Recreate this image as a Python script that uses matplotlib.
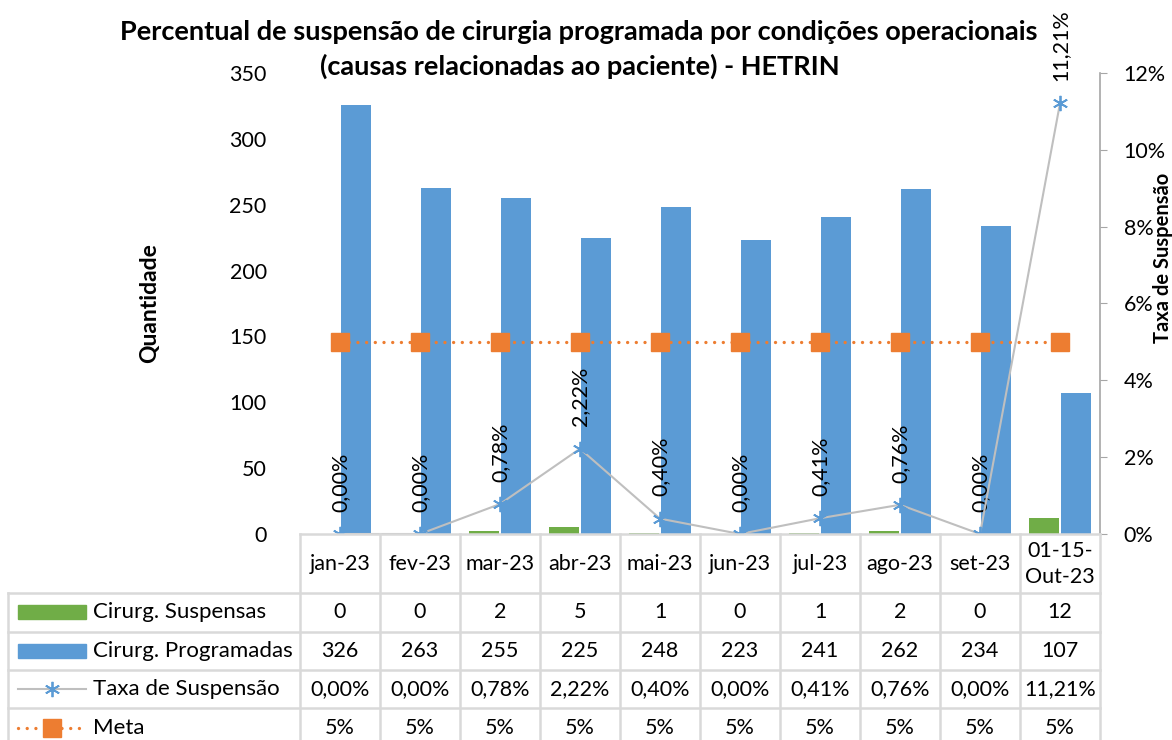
import numpy as np
import matplotlib
matplotlib.use('Agg')
import matplotlib.pyplot as plt
from matplotlib.ticker import FuncFormatter
from matplotlib.patches import Rectangle

plt.rcParams['font.family'] = ['Lato', 'DejaVu Sans']

meses = ['jan-23', 'fev-23', 'mar-23', 'abr-23', 'mai-23', 'jun-23',
         'jul-23', 'ago-23', 'set-23', '01-15-\nOut-23']
suspensas = [0, 0, 2, 5, 1, 0, 1, 2, 0, 12]
programadas = [326, 263, 255, 225, 248, 223, 241, 262, 234, 107]
taxa = [0.0, 0.0, 0.0078, 0.0222, 0.0040, 0.0, 0.0041, 0.0076, 0.0, 0.1121]
meta = [0.05] * 10

verde = '#70ad47'
azul = '#5b9bd5'
laranja = '#ed7d31'
cinza = '#bfbfbf'
grade = '#d9d9d9'
fs = 15.5
pontilhado = (0, (0.01, 2.6))

W, H = 1172, 740
fig = plt.figure(figsize=(W / 100, H / 100), dpi=100)


def pct(v):
    return f'{v * 100:.2f}%'.replace('.', ',')


x = np.arange(len(meses))

# eixo principal: quantidades
ax = fig.add_axes([300 / W, 1 - 534 / H, 800 / W, 461 / H])
ax.bar(x - 0.2, suspensas, 0.375, color=verde)
ax.bar(x + 0.2, programadas, 0.375, color=azul)
ax.set_xlim(-0.5, 9.5)
ax.set_ylim(0, 350)
ax.set_yticks(range(0, 351, 50))
ax.set_xticks([])
ax.tick_params(axis='y', length=0, pad=24, labelsize=fs)
for s in ax.spines.values():
    s.set_visible(False)
ax.set_ylabel('Quantidade', fontsize=16.5, fontweight='bold', labelpad=50)

# eixo secundario: taxa de suspensao e meta
ax2 = ax.twinx()
ax2.set_ylim(0, 0.12)
ax2.set_yticks(np.arange(0, 0.121, 0.02))
ax2.yaxis.set_major_formatter(FuncFormatter(lambda v, p: f'{round(v * 100)}%'))
ax2.tick_params(axis='y', direction='out', length=5, color='#a6a6a6', pad=12, labelsize=fs)
for k in ['top', 'left', 'bottom']:
    ax2.spines[k].set_visible(False)
ax2.spines['right'].set_color('#a6a6a6')
ax2.spines['right'].set_linewidth(1.2)

ax2.plot(x, meta, color=laranja, lw=2.4, ls=pontilhado, dash_capstyle='round',
         marker='s', ms=13, mfc=laranja, mec=laranja, zorder=3)
ax2.plot(x, taxa, color=cinza, lw=1.5, marker=(6, 2, 0), ms=11,
         mec=azul, mew=1.3, zorder=4)
for i, v in enumerate(taxa):
    ax2.annotate(pct(v), (i, v), xytext=(0, 16), textcoords='offset points',
                 rotation=90, ha='center', va='bottom', fontsize=fs)

fig.text(1163 / W, 1 - 258 / H, 'Taxa de Suspensão', rotation=90, ha='center',
         va='center', fontsize=14.5, fontweight='bold')

fig.text(579 / W, 1 - 32 / H,
         'Percentual de suspensão de cirurgia programada por condições operacionais',
         ha='center', va='center', fontsize=19.5, fontweight='bold')
fig.text(580 / W, 1 - 66 / H, '(causas relacionadas ao paciente) - HETRIN',
         ha='center', va='center', fontsize=19.5, fontweight='bold')

# tabela de dados abaixo do grafico
tb = fig.add_axes([8 / W, 0, 1092 / W, 206 / H])
tb.set_xlim(-4.15, 9.5)
tb.set_ylim(740, 534)
tb.axis('off')
linhas = [593, 632, 670, 708, 746]
tb.plot([-0.5, 9.5], [534, 534], color=grade, lw=1.8, clip_on=False)
for y in linhas:
    tb.plot([-4.15, 9.5], [y, y], color=grade, lw=1.8, clip_on=False)
for k in range(11):
    tb.plot([k - 0.5, k - 0.5], [534, 746], color=grade, lw=1.8, clip_on=False)
tb.plot([-4.15, -4.15], [593, 746], color=grade, lw=1.8, clip_on=False)

for i, m in enumerate(meses):
    tb.text(i, 564, m, ha='center', va='center', fontsize=fs, linespacing=1.4)

centros = [612, 651, 689, 728]
valores = [[str(v) for v in suspensas], [str(v) for v in programadas],
           [pct(v) for v in taxa], [f'{round(v * 100)}%' for v in meta]]
for c, vals in zip(centros, valores):
    for i, t in enumerate(vals):
        tb.text(i, c, t, ha='center', va='center', fontsize=fs)

# legenda embutida na primeira coluna
x0, x1 = -4.15 + 10 / 80, -4.15 + 78 / 80
xt = -4.15 + 85 / 80
tb.add_patch(Rectangle((x0, centros[0] - 7), x1 - x0, 14, color=verde))
tb.add_patch(Rectangle((x0, centros[1] - 7), x1 - x0, 14, color=azul))
tb.plot([x0, x1], [centros[2]] * 2, color=cinza, lw=1.5)
tb.plot([(x0 + x1) / 2], [centros[2]], marker=(6, 2, 0), ms=11, mec=azul, mew=1.3)
tb.plot([x0, x1], [centros[3]] * 2, color=laranja, lw=2.4, ls=pontilhado,
        dash_capstyle='round')
tb.plot([(x0 + x1) / 2], [centros[3]], marker='s', ms=13, color=laranja)
rotulos = ['Cirurg. Suspensas', 'Cirurg. Programadas', 'Taxa de Suspensão', 'Meta']
for c, r in zip(centros, rotulos):
    tb.text(xt, c, r, ha='left', va='center', fontsize=16)

fig.savefig('out.png', dpi=100)
